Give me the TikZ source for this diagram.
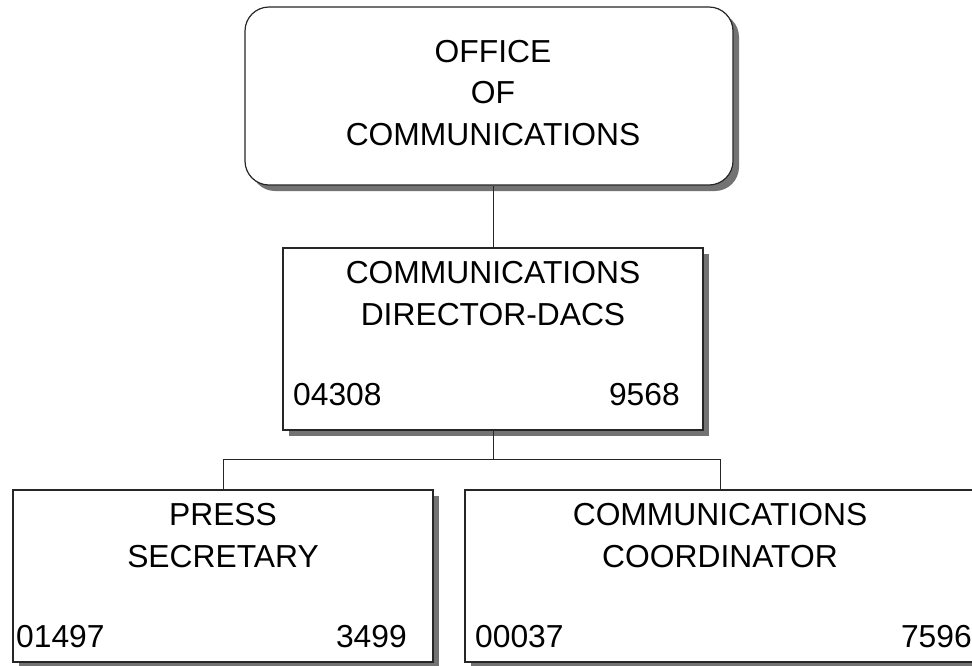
\documentclass[tikz,border=0pt]{standalone}
\usepackage{fontspec}
\setmainfont{Liberation Sans}
\usetikzlibrary{shadows}
\begin{document}
\begin{tikzpicture}[x=1pt,y=-1pt,
  box/.style={draw=black!85, line width=1.2pt, fill=white, inner sep=0pt,
    drop shadow={shadow xshift=6pt, shadow yshift=-6pt, fill=black!55, opacity=1}},
  txt/.style={font=\fontsize{31.8}{38}\selectfont, inner sep=0pt},
  link/.style={draw=black!85, line width=1pt}]
\useasboundingbox (0,0) rectangle (972,665);

% boxes
\node[box, rounded corners=24pt, minimum width=488pt, minimum height=178pt] (office) at (489,96) {};
\node[box, minimum width=420pt, minimum height=182pt] (director) at (493,339) {};
\node[box, minimum width=420pt, minimum height=172pt] (press) at (223,576) {};
\node[box, minimum width=510pt, minimum height=172pt] (coord) at (720,576) {};

% connectors
\coordinate (bus) at (493,459);
\draw[link] (director.north) -- (director.north |- office.south);
\draw[link] (director.south) -- (director.south |- bus);
\draw[link] (press.north) -- (press.north |- bus) -- (coord.north |- bus) -- (coord.north);

% office
\node[txt, anchor=base] (o1) at (director.center |- 0,62) {OFFICE};
\node[txt, anchor=base] (o2) at (director.center |- 0,103) {OF};
\node[txt, anchor=base] (o3) at (director.center |- 0,145) {COMMUNICATIONS};

% director
\node[txt, anchor=base] (d1) at (director.center |- 0,283) {COMMUNICATIONS};
\node[txt, anchor=base] (d2) at (director.center |- 0,325) {DIRECTOR-DACS};
\node[txt, anchor=base west] (d3) at (293,405) {04308};
\node[txt, anchor=base east] (d4) at (680,405) {9568};

% press secretary
\node[txt, anchor=base] (p1) at (press.center |- 0,525) {PRESS};
\node[txt, anchor=base] (p2) at (press.center |- 0,567) {SECRETARY};
\node[txt, anchor=base west] (p3) at (16,647) {01497};
\node[txt, anchor=base east] (p4) at (407,647) {3499};

% coordinator
\node[txt, anchor=base] (c1) at (coord.center |- 0,525) {COMMUNICATIONS};
\node[txt, anchor=base] (c2) at (coord.center |- 0,567) {COORDINATOR};
\node[txt, anchor=base west] (c3) at (475,647) {00037};
\node[txt, anchor=base east] (c4) at (972,647) {7596};
\end{tikzpicture}
\end{document}
